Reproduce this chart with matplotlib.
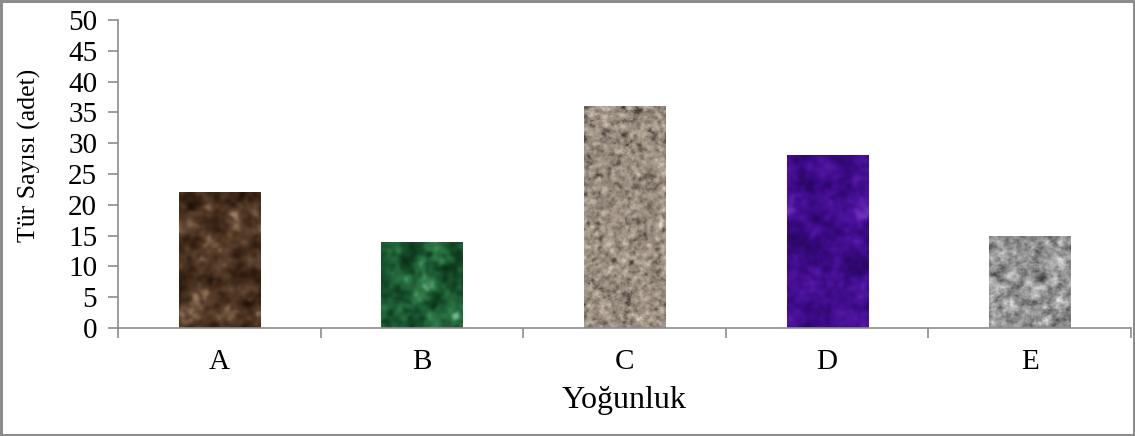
import numpy as np
import matplotlib.pyplot as plt
from matplotlib.colors import LinearSegmentedColormap

# species counts per density class
categories = ['A', 'B', 'C', 'D', 'E']
counts = [22, 14, 36, 28, 15]

# colour ramps (dark -> light) used for the textured fills
ramps = [
    ['#20120a', '#3e2818', '#5e4430', '#9a7e60'],   # brown marble
    ['#0a2e16', '#17502c', '#2e7a48', '#7ab890'],   # green marble
    ['#3c342e', '#8a7e72', '#b8ab9c', '#e6ded2'],   # beige granite
    ['#2a0660', '#3a0a84', '#4e14a0', '#7032bc'],   # purple
    ['#3a3a3a', '#7a7a7a', '#b0b0b0', '#ececec'],   # grey granite
]
grain = [6.0, 6.0, 1.6, 6.0, 2.2]

plt.rcParams['font.family'] = ['Liberation Serif', 'DejaVu Serif']


def smooth_noise(shape, sigma, rng):
    # gaussian-filtered white noise, done in the frequency domain
    n = rng.standard_normal(shape)
    fy = np.fft.fftfreq(shape[0])[:, None]
    fx = np.fft.fftfreq(shape[1])[None, :]
    k = np.exp(-2 * (np.pi * sigma) ** 2 * (fx ** 2 + fy ** 2))
    out = np.real(np.fft.ifft2(np.fft.fft2(n) * k))
    out = (out - out.mean()) / out.std()
    return out


def texture(shape, sigma, rng):
    t = smooth_noise(shape, sigma, rng) + 0.5 * smooth_noise(shape, sigma / 3, rng)
    if sigma > 3:
        # marble veins
        t += 0.6 * np.abs(np.sin(2.5 * smooth_noise(shape, sigma * 2, rng)))
    t = (t - t.min()) / (t.max() - t.min())
    return t


fig = plt.figure(figsize=(11.35, 4.36), dpi=100, linewidth=2.5, edgecolor='#8c8c8c')
ax = fig.add_axes([0.104, 0.248, 0.8925, 0.706])

x = np.arange(len(categories))
width = 0.4
bars = ax.bar(x, counts, width=width, color='none', edgecolor='none')

rng = np.random.default_rng(7)
for b, ramp, s in zip(bars, ramps, grain):
    h = b.get_height()
    px_h = max(int(h * 6.2), 10)
    tex = texture((px_h, 80), s, rng)
    cmap = LinearSegmentedColormap.from_list('t', ramp)
    im = ax.imshow(tex, cmap=cmap, aspect='auto', interpolation='bilinear',
                   extent=(b.get_x(), b.get_x() + b.get_width(), 0, h), zorder=2)
    im.set_clip_path(b)

ax.set_xlim(-0.5, len(categories) - 0.5)
ax.set_ylim(0, 50)
ax.set_yticks(np.arange(0, 51, 5))

# category boundaries get the tick marks, labels sit in between
ax.set_xticks(np.arange(-0.5, len(categories), 1.0))
ax.set_xticklabels([])
ax.set_xticks(x, minor=True)
ax.set_xticklabels(categories, minor=True)
ax.tick_params(axis='x', which='minor', length=0, pad=15, labelsize=21)
ax.tick_params(axis='x', which='major', length=7, color='#8c8c8c', width=1.2)
ax.tick_params(axis='y', length=7, color='#8c8c8c', width=1.2, pad=8, labelsize=21)

for side in ['top', 'right']:
    ax.spines[side].set_visible(False)
for side in ['left', 'bottom']:
    ax.spines[side].set_color('#8c8c8c')
    ax.spines[side].set_linewidth(1.2)

ax.set_xlabel('Yoğunluk', fontsize=23, labelpad=8)
ax.set_ylabel('Tür Sayısı (adet)', fontsize=18.5)
ax.yaxis.set_label_coords(-0.076, 0.56)

fig.savefig('out.png', dpi=100, edgecolor=fig.get_edgecolor())
